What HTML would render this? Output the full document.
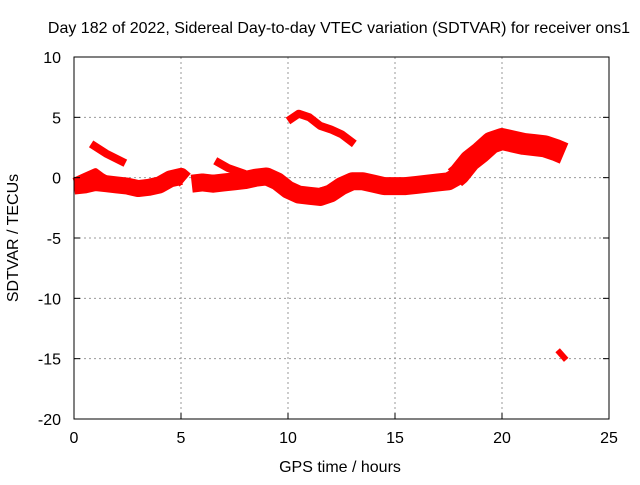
<!DOCTYPE html>
<html><head><meta charset="utf-8"><style>
body{margin:0;background:#fff}
svg text{font-family:"Liberation Sans",sans-serif;font-size:16px;fill:#000}
</style></head><body>
<svg id="chart" width="640" height="480" xmlns="http://www.w3.org/2000/svg">
<rect width="640" height="480" fill="#fff"/>
<g id="grid"></g>
<g id="series"></g>
<rect x="74" y="57" width="535" height="362" fill="none" stroke="#000" stroke-width="1"/>
<g id="axes"></g>
<text x="339" y="33" text-anchor="middle">Day 182 of 2022, Sidereal Day-to-day VTEC variation (SDTVAR) for receiver ons1</text>
<text x="340" y="472" text-anchor="middle">GPS time / hours</text>
<text transform="translate(18,238) rotate(-90)" text-anchor="middle">SDTVAR / TECUs</text>
</svg>
<script>
const xTicks=[0,5,10,15,20,25];
const yTicks=[10,5,0,-5,-10,-15,-20];
const mainHours=[0,0.5,1,1.5,2,2.5,3,3.5,4,4.5,5,5.2];
const mainVals=[-0.7,-0.6,-0.4,-0.5,-0.6,-0.7,-0.9,-0.8,-0.6,-0.1,0.1,-0.2];
const main2Hours=[5.5,6,6.5,7,7.5,8,8.5,9,9.5,10,10.5,11,11.5,12,12.5,13,13.5,14,14.5,15,15.5,16,16.5,17,17.5,18];
const main2Vals=[-0.5,-0.4,-0.5,-0.4,-0.3,-0.2,0,0.1,-0.3,-1.0,-1.4,-1.5,-1.6,-1.3,-0.7,-0.3,-0.3,-0.5,-0.7,-0.7,-0.7,-0.6,-0.5,-0.4,-0.3,0.2];
const lateHours=[17.8,18,18.5,19,19.5,20,20.5,21,21.5,22,22.5,22.9];
const lateVals=[0.0,0.3,1.4,2.1,2.9,3.2,3.0,2.8,2.7,2.6,2.3,2.0];
const arcHours=[0,0.5,1,1.3,1.7];
const arcVals=[-0.3,0.1,0.5,0.1,-0.3];
const segAHours=[0.8,1.5,2.4];
const segAVals=[2.8,2.0,1.2];
const segBHours=[6.6,7.2,8.0];
const segBVals=[1.4,0.8,0.3];
const segCHours=[10,10.5,11,11.5,12,12.5,13.1];
const segCVals=[4.7,5.3,5.0,4.3,4.0,3.6,2.8];
const segDHours=[11.5,12,12.6];
const segDVals=[-1.1,-0.9,-0.7];
const segEHours=[22.6,23];
const segEVals=[-14.3,-15.1];
const x=h=>74+h*535/25;
const y=v=>57+(10-v)*362/30;
const NS="http://www.w3.org/2000/svg";
const grid=document.getElementById('grid'),axes=document.getElementById('axes'),ser=document.getElementById('series');
function mk(t,a,p){const e=document.createElementNS(NS,t);for(const k in a)e.setAttribute(k,a[k]);p.appendChild(e);return e;}
xTicks.forEach(t=>{
 if(t>0&&t<25){const g=mk('line',{x1:x(t),x2:x(t),y1:57,y2:419,stroke:'#999','stroke-dasharray':'2,3'},grid);
 
 }
 const l=mk('text',{x:x(t),y:443,'text-anchor':'middle'},axes);l.textContent=t;
 
 
 mk('line',{x1:x(t),x2:x(t),y1:419,y2:413,stroke:'#000'},axes);
});
yTicks.forEach(t=>{
 if(t<10&&t>-20){const g=mk('line',{x1:74,x2:609,y1:y(t),y2:y(t),stroke:'#999','stroke-dasharray':'2,3'},grid);
 
 }
 const l=mk('text',{x:61,y:y(t)+6,'text-anchor':'end'},axes);l.textContent=t;
 
 
 mk('line',{x1:74,x2:80,y1:y(t),y2:y(t),stroke:'#000'},axes);
 mk('line',{x1:609,x2:603,y1:y(t),y2:y(t),stroke:'#000'},axes);
});
function band(hs,vs,w,name){
 const pts=hs.map((h,i)=>x(h)+','+y(vs[i])).join(' ');
 const p=mk('polyline',{points:pts,fill:'none',stroke:'#f00','stroke-width':w,'stroke-linejoin':'round','stroke-linecap':'butt'},ser);
 
 
}
band(mainHours,mainVals,17,'sdtvar-main-band-1');
band(main2Hours,main2Vals,18,'sdtvar-main-band-2');
band(lateHours,lateVals,22,'sdtvar-late-band');
band(arcHours,arcVals,7,'sdtvar-arc');
band(segAHours,segAVals,8,'sdtvar-segment-a');
band(segBHours,segBVals,8,'sdtvar-segment-b');
band(segCHours,segCVals,8,'sdtvar-segment-c');
band(segDHours,segDVals,7,'sdtvar-segment-d');
band(segEHours,segEVals,6,'sdtvar-segment-e');
</script>
</body></html>
